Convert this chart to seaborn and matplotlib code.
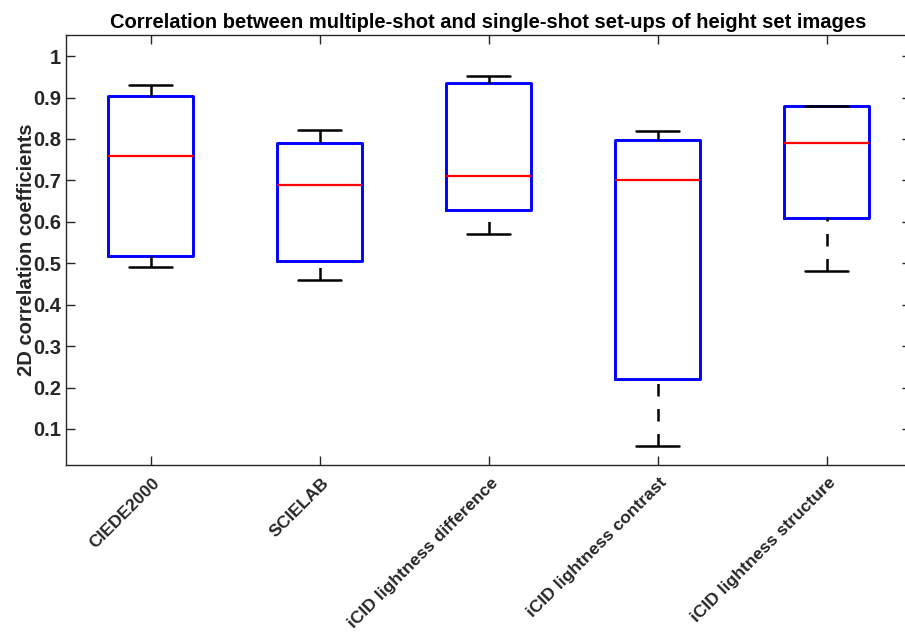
import numpy as np
import pandas as pd
import matplotlib
matplotlib.use("Agg")
import matplotlib.pyplot as plt
import matplotlib.transforms as mtransforms
import seaborn as sns

metrics = ["CIEDE2000", "SCIELAB", "iCID lightness difference",
           "iCID lightness contrast", "iCID lightness structure"]
# five-number summaries: min, q1, median, q3, max
ciede = [0.491, 0.517, 0.759, 0.904, 0.930]
scielab = [0.459, 0.505, 0.689, 0.790, 0.821]
icid_diff = [0.570, 0.629, 0.710, 0.935, 0.951]
icid_contrast = [0.059, 0.221, 0.701, 0.797, 0.819]
icid_structure = [0.481, 0.609, 0.790, 0.879, 0.880]
y_ticks = [0.1, 0.2, 0.3, 0.4, 0.5, 0.6, 0.7, 0.8, 0.9, 1]

df = pd.DataFrame({
    "metric": np.repeat(metrics, 5),
    "value": ciede + scielab + icid_diff + icid_contrast + icid_structure,
})

sns.set_theme(style="white")
plt.rcParams["font.family"] = ["Liberation Sans", "DejaVu Sans"]
plt.rcParams["font.weight"] = "bold"

FS = 14.5
FSX = 12.6
fig = plt.figure(figsize=(9.05, 6.34), dpi=100)
W, H = 905, 634
left, right, top, bottom = 66, 911, 35, 465
ax = fig.add_axes([left / W, 1 - bottom / H, (right - left) / W, (bottom - top) / H])

sns.boxplot(data=df, x="metric", y="value", order=metrics, ax=ax,
            whis=np.inf, fill=False, width=0.5, linecolor="blue",
            boxprops=dict(color="blue", linewidth=2.1),
            medianprops=dict(color="red", linewidth=1.6),
            whiskerprops=dict(color="black", linewidth=1.8, linestyle=(0, (5, 5))),
            capprops=dict(color="black", linewidth=1.8))

# MATLAB draws whiskers starting from the cap end; reverse their direction
for ln in ax.lines:
    xd, yd = np.asarray(ln.get_xdata()), np.asarray(ln.get_ydata())
    if len(xd) == 2 and xd[0] == xd[1] and ln.get_linestyle() not in ("-", "solid"):
        ln.set_data(xd[::-1], yd[::-1])

ax.set_xlim(-0.5, 4.5)
ax.set_ylim(0.013, 1.051)
ax.set_yticks(y_ticks)
ax.set_yticklabels([f"{t:g}" for t in y_ticks])
ax.set_xlabel("")
ax.set_ylabel("2D correlation coefficients", fontsize=FS, fontweight="bold", labelpad=-2,
              color="#262626")
ax.set_title("Correlation between multiple-shot and single-shot set-ups of height set images",
             fontsize=FS, fontweight="bold", pad=5, color="black")

for s in ax.spines.values():
    s.set_color("#262626")
    s.set_linewidth(1.0)
ax.tick_params(axis="both", direction="in", length=6.3, width=1.0, color="#262626",
               labelsize=FS, labelcolor="#262626", top=True, right=True, bottom=True, left=True)
ax.tick_params(axis="y", pad=3.5)
ax.tick_params(axis="x", pad=11, labelsize=FSX)
offset = mtransforms.ScaledTranslation(7 / 100, 0, fig.dpi_scale_trans)
for lbl in ax.get_xticklabels():
    lbl.set_rotation(45)
    lbl.set_ha("right")
    lbl.set_va("center")
    lbl.set_rotation_mode("anchor")
    lbl.set_fontweight("bold")
    lbl.set_transform(lbl.get_transform() + offset)
for lbl in ax.get_yticklabels():
    lbl.set_fontweight("bold")

fig.savefig("out.png", dpi=100)
